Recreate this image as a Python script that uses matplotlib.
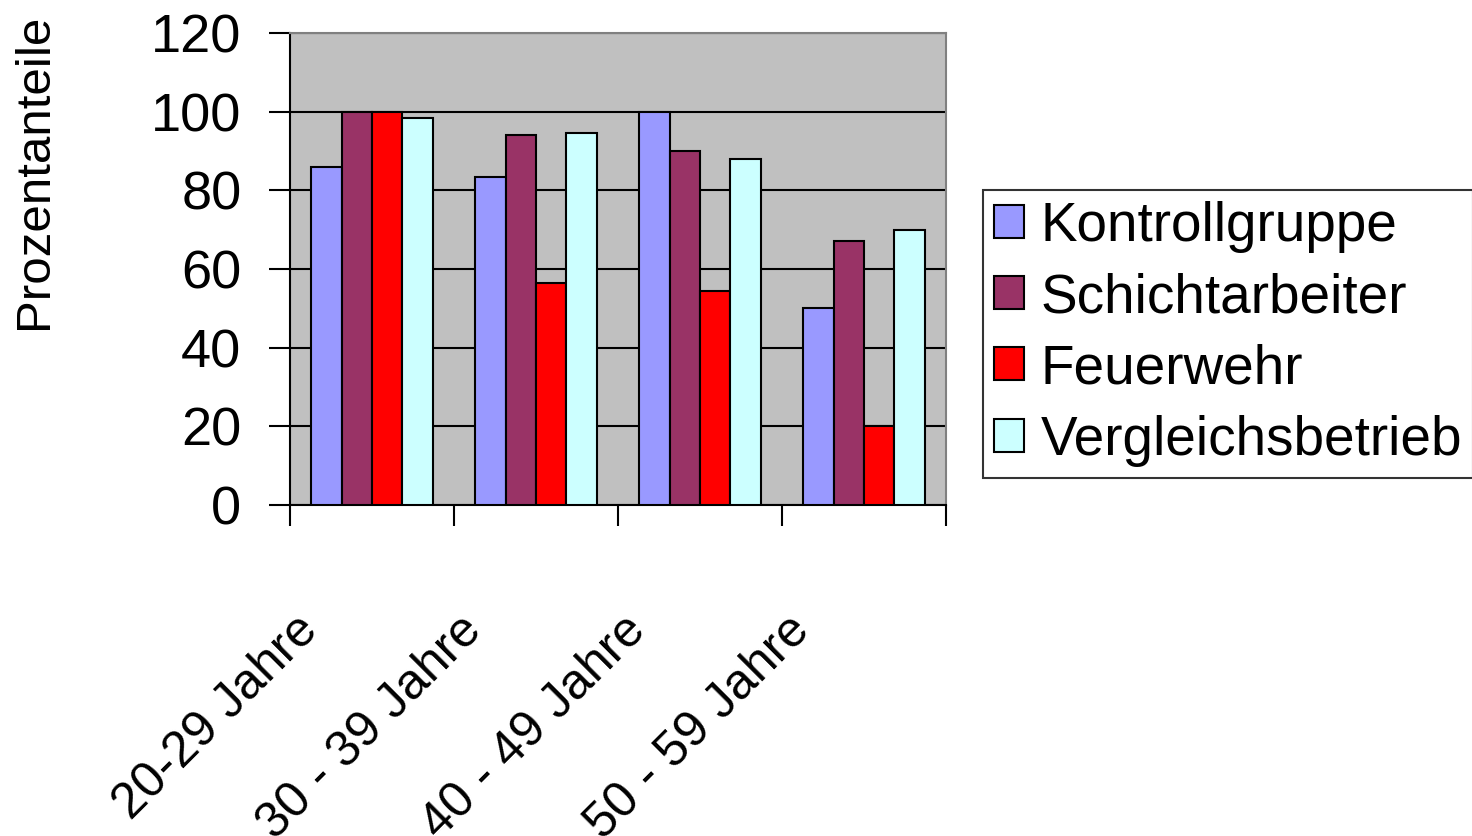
import matplotlib

matplotlib.use("Agg")
import matplotlib.pyplot as plt
import numpy as np

# Daten
altersgruppen = ["20-29 Jahre", "30 - 39 Jahre", "40 - 49 Jahre", "50 - 59 Jahre"]
gruppen = ["Kontrollgruppe", "Schichtarbeiter", "Feuerwehr", "Vergleichsbetrieb"]
kontrollgruppe = [86, 83.5, 100, 50]
schichtarbeiter = [100, 94, 90, 67]
feuerwehr = [100, 56.5, 54.5, 20]
vergleichsbetrieb = [98.5, 94.5, 88, 70]
farben = ["#9999FF", "#993366", "#FF0000", "#CCFFFF"]
y_ticks = [0, 20, 40, 60, 80, 100, 120]

plt.rcParams["font.family"] = ["Liberation Sans", "DejaVu Sans"]

fig = plt.figure(figsize=(14.72, 8.36), dpi=100)
ax = fig.add_axes([290 / 1472, 1 - 505 / 836, 656 / 1472, 472 / 836])
ax.set_facecolor("#C0C0C0")

x = np.arange(len(altersgruppen))
breite = 0.185
serien = [kontrollgruppe, schichtarbeiter, feuerwehr, vergleichsbetrieb]
for i, (werte, name, farbe) in enumerate(zip(serien, gruppen, farben)):
    ax.bar(x + (i - 1.5) * breite, werte, width=breite, color=farbe,
           edgecolor="black", linewidth=1.5, label=name, zorder=3)

ax.set_xlim(-0.5, 3.5)
ax.set_ylim(0, 120)
ax.set_yticks(y_ticks)
ax.set_yticklabels([str(t) for t in y_ticks], fontsize=39)
ax.yaxis.grid(True, color="black", linewidth=1.5, zorder=1)
ax.set_axisbelow(True)

ax.set_xticks(np.arange(-0.5, 3.6, 1))
ax.set_xticklabels([])
ax.tick_params(axis="both", direction="out", length=15, width=1.5, color="black")
ax.tick_params(axis="y", pad=20)

for s in ["left", "bottom"]:
    ax.spines[s].set_color("black")
    ax.spines[s].set_linewidth(1.5)
for s in ["top", "right"]:
    ax.spines[s].set_color("#808080")
    ax.spines[s].set_linewidth(1.5)

for i, label in enumerate(altersgruppen):
    ax.annotate(label, xy=(i, 0), xycoords=("data", "axes fraction"),
                xytext=(-78, -102), textcoords="offset pixels",
                rotation=45, ha="right", va="top", rotation_mode="anchor",
                fontsize=36)

fig.text(35 / 1472, 1 - 171 / 836, "Prozentanteile", rotation=90,
         ha="center", va="center", fontsize=35.5)

leg = fig.legend(loc="upper left", bbox_to_anchor=(983 / 1472, 1 - 190 / 836),
                 fontsize=39.5, frameon=True, fancybox=False, edgecolor="black",
                 handlelength=0.55, handleheight=0.55, handletextpad=0.3,
                 labelspacing=0.35, borderpad=0.2, borderaxespad=0)
leg.get_frame().set_linewidth(1.5)

plt.savefig("out.png", dpi=100)
